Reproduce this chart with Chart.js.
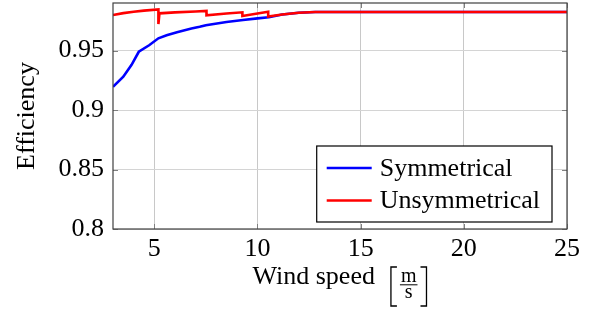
<!DOCTYPE html>
<html>
<head>
<meta charset="utf-8">
<script src="https://cdn.jsdelivr.net/npm/chart.js@4/dist/chart.umd.min.js"></script>
<style>
  html, body { margin: 0; padding: 0; background: #fff; }
  #wrap { width: 594px; height: 315px; }
</style>
</head>
<body>
<div id="wrap"><canvas id="effChart"></canvas></div>
<script>
// values
const symX = [3, 3.5, 3.9, 4.25, 4.75, 5.2, 5.6, 6.1, 6.8, 7.2, 7.5, 8.5, 9.3, 10, 10.55, 11.2, 12, 12.8, 25];
const symY = [0.9196, 0.928, 0.938, 0.949, 0.9545, 0.9603, 0.9628, 0.9655, 0.9685, 0.970, 0.9713, 0.974, 0.9757, 0.9771, 0.978, 0.9803, 0.9818, 0.9824, 0.9824];

const unsX = [3, 3.5, 4, 4.5, 5.2, 5.2, 5.25, 6, 7, 7.53, 7.53, 8.5, 9.27, 9.27, 10, 10.52, 10.52, 11.2, 12, 12.8, 25];
const unsY = [0.9799, 0.9815, 0.9826, 0.9836, 0.9846, 0.9723, 0.9813, 0.9821, 0.9829, 0.9833, 0.9797, 0.9812, 0.9822, 0.9791, 0.9812, 0.9827, 0.9786, 0.9803, 0.9818, 0.9824, 0.9824];

const xTicks = [5, 10, 15, 20, 25];
const yTicks = [0.8, 0.85, 0.9, 0.95];
const yTickLabels = ["0.8", "0.85", "0.9", "0.95"];

const seriesNames = ["Symmetrical", "Unsymmetrical"];
const seriesColors = ["#0000ff", "#ff0000"];

const FONT = "'Liberation Serif', 'Times New Roman', serif";

function toPoints(xs, ys) {
  return xs.map((x, i) => ({ x: x, y: ys[i] }));
}

// frame, inner tick marks, legend and x title in pgfplots style
const decorations = {
  id: "decorations",
  afterDatasetsDraw(chart) {
    const ctx = chart.ctx;
    const a = chart.chartArea;
    const sx = chart.scales.x;
    const sy = chart.scales.y;
    ctx.save();

    // tick marks on all four sides
    ctx.strokeStyle = "#808080";
    ctx.lineWidth = 1;
    ctx.beginPath();
    xTicks.forEach((t) => {
      const px = Math.round(sx.getPixelForValue(t)) + 0.5;
      ctx.moveTo(px, a.bottom); ctx.lineTo(px, a.bottom - 5);
      ctx.moveTo(px, a.top); ctx.lineTo(px, a.top + 5);
    });
    yTicks.forEach((t) => {
      const py = Math.round(sy.getPixelForValue(t)) + 0.5;
      ctx.moveTo(a.left, py); ctx.lineTo(a.left + 5, py);
      ctx.moveTo(a.right, py); ctx.lineTo(a.right - 5, py);
    });
    ctx.stroke();

    // frame
    ctx.strokeStyle = "#404040";
    ctx.lineWidth = 1.2;
    ctx.strokeRect(a.left, a.top, a.right - a.left, a.bottom - a.top);

    // legend
    ctx.font = "26px " + FONT;
    const textW = Math.max(...seriesNames.map((n) => ctx.measureText(n).width));
    const boxW = 10 + 45 + 8 + textW + 12;
    const boxH = 76;
    const bx = a.right - 15 - boxW;
    const by = a.bottom - 7 - boxH;
    ctx.fillStyle = "#fff";
    ctx.fillRect(bx, by, boxW, boxH);
    ctx.strokeStyle = "#000";
    ctx.lineWidth = 1.2;
    ctx.strokeRect(bx, by, boxW, boxH);
    seriesNames.forEach((name, i) => {
      const cy = by + 22 + i * 32.5;
      ctx.strokeStyle = seriesColors[i];
      ctx.lineWidth = 2.5;
      ctx.beginPath();
      ctx.moveTo(bx + 10, cy);
      ctx.lineTo(bx + 55, cy);
      ctx.stroke();
      ctx.fillStyle = "#000";
      ctx.textBaseline = "middle";
      ctx.textAlign = "left";
      ctx.fillText(name, bx + 63, cy + 1);
    });

    // x axis title: Wind speed [m/s] with stacked fraction
    const base = 284;
    ctx.fillStyle = "#000";
    ctx.textBaseline = "alphabetic";
    ctx.textAlign = "left";
    ctx.font = "26px " + FONT;
    const label = "Wind speed";
    const wLabel = ctx.measureText(label).width;
    ctx.font = "20px " + FONT;
    const wFrac = Math.max(ctx.measureText("m").width, ctx.measureText("s").width) + 2;
    const gap = 15;
    const wBr = 7;
    const total = wLabel + gap + wBr + 3 + wFrac + 3 + wBr;
    let x0 = (a.left + a.right) / 2 - total / 2;
    ctx.font = "26px " + FONT;
    ctx.fillText(label, x0, base);
    x0 += wLabel + gap;

    // stretchy brackets drawn as thin strokes
    const bTop = 267;
    const bBot = 306;
    ctx.strokeStyle = "#000";
    ctx.lineWidth = 1.3;
    ctx.beginPath();
    ctx.moveTo(x0 + wBr, bTop); ctx.lineTo(x0 + 1, bTop);
    ctx.lineTo(x0 + 1, bBot); ctx.lineTo(x0 + wBr, bBot);
    ctx.stroke();
    x0 += wBr + 3;
    ctx.font = "20px " + FONT;
    ctx.textAlign = "center";
    ctx.fillText("m", x0 + wFrac / 2, base - 2);
    ctx.fillText("s", x0 + wFrac / 2, base + 14);
    ctx.fillRect(x0, base + 0.3, wFrac, 1);
    x0 += wFrac + 3;
    ctx.beginPath();
    ctx.moveTo(x0, bTop); ctx.lineTo(x0 + wBr - 1, bTop);
    ctx.lineTo(x0 + wBr - 1, bBot); ctx.lineTo(x0, bBot);
    ctx.stroke();

    ctx.restore();
  },
};

const ctx = document.getElementById("effChart").getContext("2d");
new Chart(ctx, {
  type: "scatter",
  data: {
    datasets: [
      {
        label: seriesNames[0],
        data: toPoints(symX, symY),
        showLine: true,
        borderColor: seriesColors[0],
        borderWidth: 2.6,
        pointRadius: 0,
        tension: 0,
        order: 1,
      },
      {
        label: seriesNames[1],
        data: toPoints(unsX, unsY),
        showLine: true,
        borderColor: seriesColors[1],
        borderWidth: 2.6,
        pointRadius: 0,
        tension: 0,
        order: 0,
      },
    ],
  },
  options: {
    responsive: true,
    maintainAspectRatio: false,
    animation: false,
    layout: { padding: { left: 0, right: 27, top: 3, bottom: 0 } },
    plugins: {
      legend: { display: false },
      tooltip: { enabled: false },
    },
    scales: {
      x: {
        type: "linear",
        min: 3,
        max: 25,
        afterBuildTicks: (s) => { s.ticks = xTicks.map((v) => ({ value: v })); },
        afterFit: (s) => { s.height = 86; s.paddingLeft = 0; s.paddingRight = 0; },
        grid: { color: "#c8c8c8", lineWidth: 1, drawTicks: false },
        border: { display: false },
        ticks: {
          color: "#000",
          padding: 5,
          font: { family: FONT, size: 26 },
          callback: (v) => String(v),
        },
      },
      y: {
        type: "linear",
        min: 0.8,
        max: 0.99,
        afterBuildTicks: (s) => { s.ticks = yTicks.map((v) => ({ value: v })); },
        afterFit: (s) => { s.width = 113; s.paddingTop = 0; s.paddingBottom = 0; },
        grid: { color: "#d4d4d4", lineWidth: 1, drawTicks: false },
        border: { display: false },
        ticks: {
          color: "#000",
          padding: 9,
          font: { family: FONT, size: 26 },
          callback: (v) => {
            const i = yTicks.indexOf(v);
            return i >= 0 ? yTickLabels[i] : "";
          },
        },
        title: {
          display: true,
          text: "Efficiency",
          color: "#000",
          padding: { top: 12, bottom: 4 },
          font: { family: FONT, size: 26 },
        },
      },
    },
  },
  plugins: [decorations],
});
</script>
</body>
</html>
